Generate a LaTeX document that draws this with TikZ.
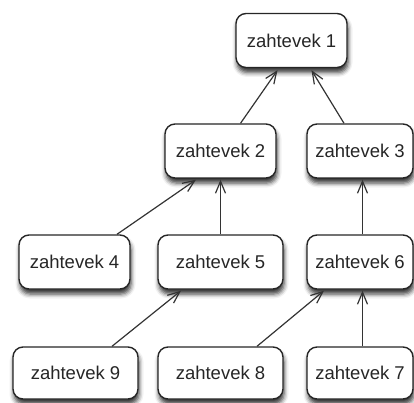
\documentclass[tikz,border=0pt]{standalone}
\usepackage{fontspec}
\setmainfont{Liberation Sans}
\usetikzlibrary{arrows.meta,shadows.blur}
\begin{document}
\begin{tikzpicture}[x=1pt,y=1pt,
  req/.style={draw=black!85, line width=1.4pt, rounded corners=10pt, fill=white,
    minimum height=54pt, inner sep=0pt, text=black!85,
    font=\fontsize{18.5}{20}\selectfont,
    blur shadow={shadow xshift=1pt, shadow yshift=-5pt, shadow blur radius=4.5pt, shadow opacity=80}},
  dep/.style={draw=black!80, line width=1.2pt, -{Straight Barb[length=12pt,width=10pt,line width=1.2pt]}}]
\useasboundingbox (0,0) rectangle (414,-403);
% top row
\node[req, minimum width=111pt] (b1) at (291.5,-40.5) {zahtevek 1};
% second row
\node[req, minimum width=111pt] (b2) at (220.5,-151) {zahtevek 2};
\node[req, minimum width=106pt] (b3) at (360,-151) {zahtevek 3};
% third row
\node[req, minimum width=111pt] (b4) at (74.5,-262) {zahtevek 4};
\node[req, minimum width=125pt] (b5) at (220.5,-262) {zahtevek 5};
\node[req, minimum width=106pt] (b6) at (360,-262) {zahtevek 6};
% bottom row
\node[req, minimum width=125pt, minimum height=52pt] (b9) at (75.5,-373) {zahtevek 9};
\node[req, minimum width=125pt, minimum height=52pt] (b8) at (220.5,-373) {zahtevek 8};
\node[req, minimum width=106pt, minimum height=52pt] (b7) at (360,-373) {zahtevek 7};
% dependencies
\draw[dep] ([xshift=20pt]b2.north) -- ([xshift=-14pt,yshift=-2pt]b1.south);
\draw[dep] ([xshift=-16pt]b3.north) -- ([xshift=20pt,yshift=-2pt]b1.south);
\draw[dep] ([xshift=42.5pt]b4.north) -- ([xshift=-24.5pt,yshift=-1pt]b2.south);
\draw[dep] (b5.north) -- ([yshift=-1pt]b2.south);
\draw[dep] ([xshift=36.5pt]b9.north) -- ([xshift=-39.5pt,yshift=-1pt]b5.south);
\draw[dep] ([xshift=2.5pt]b6.north) -- ([xshift=2.5pt,yshift=-1pt]b3.south);
\draw[dep] ([xshift=36.5pt]b8.north) -- ([xshift=-36pt,yshift=-1pt]b6.south);
\draw[dep] ([xshift=2.5pt]b7.north) -- ([xshift=2.5pt,yshift=-1pt]b6.south);
\end{tikzpicture}
\end{document}
